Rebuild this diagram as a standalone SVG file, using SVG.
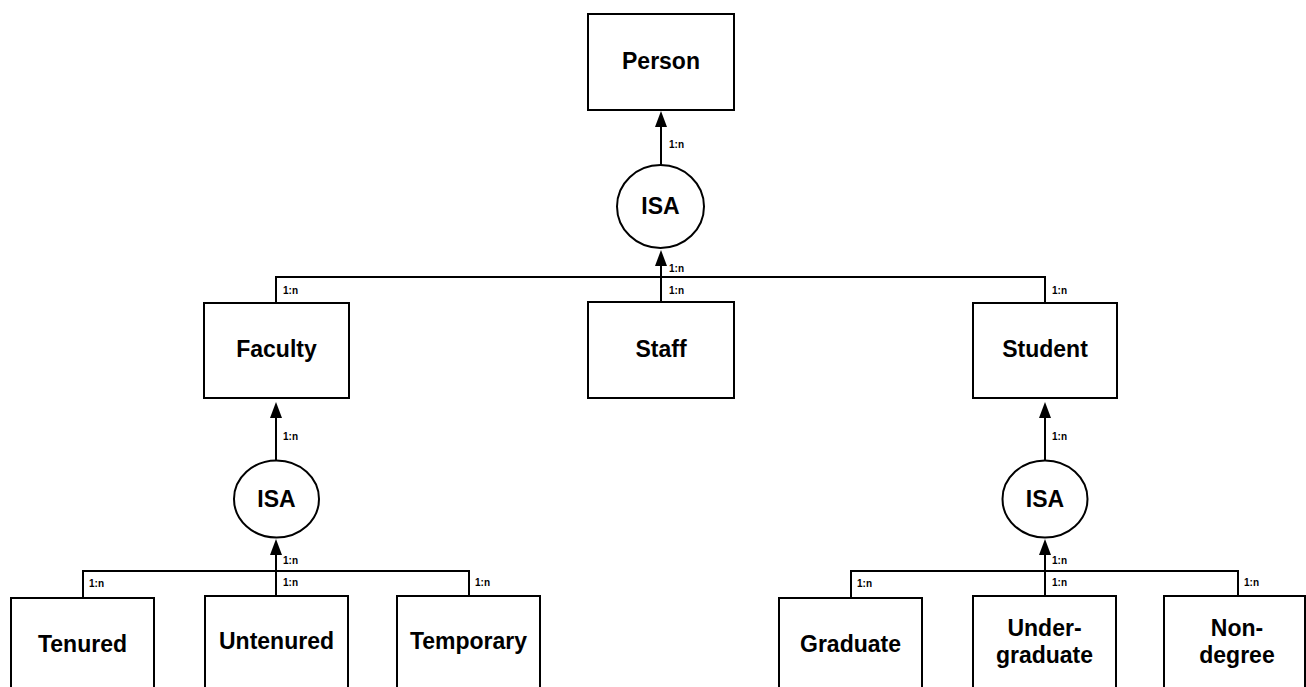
<svg xmlns="http://www.w3.org/2000/svg" width="1306" height="687" viewBox="0 0 1306 687">
  <style>
    .box { fill: #ffffff; stroke: #000000; stroke-width: 2; }
    .isa { fill: #ffffff; stroke: #000000; stroke-width: 2; }
    .name { font-family: "Liberation Sans", Arial, sans-serif; font-weight: bold; font-size: 23px; fill: #000000; text-anchor: middle; }
    .card { font-family: "Liberation Sans", Arial, sans-serif; font-weight: bold; font-size: 10px; fill: #000000; }
    .wire { fill: none; stroke: #000000; stroke-width: 2; }
    .arrow { fill: none; stroke: #000000; stroke-width: 2; marker-end: url(#head); }
  </style>
  <defs>
    <marker id="head" markerUnits="userSpaceOnUse" markerWidth="16" markerHeight="12" refX="0" refY="6" orient="auto">
      <path d="M0,0 L16,6 L0,12 z" fill="#000000"/>
    </marker>
  </defs>
  <rect width="1306" height="687" fill="#ffffff"/>

  <!-- connectors -->
  <g id="connectors">
    <!-- Person <- ISA -->
    <path class="arrow" d="M661,165 V127"/>
    <path class="arrow" d="M661,302 V266"/>
    <path class="wire" d="M276,303 V277 H1045 V303"/>
    <!-- Faculty <- ISA -->
    <path class="arrow" d="M276,461 V418"/>
    <path class="arrow" d="M276,596 V555"/>
    <path class="wire" d="M83,598 V571 H469 V596"/>
    <!-- Student <- ISA -->
    <path class="arrow" d="M1045,461 V418"/>
    <path class="arrow" d="M1045,596 V555"/>
    <path class="wire" d="M851,598 V571 H1238 V596"/>

    <!-- cardinality labels -->
    <text class="card" x="669" y="148">1:n</text>
    <text class="card" x="669" y="272">1:n</text>
    <text class="card" x="669" y="294">1:n</text>
    <text class="card" x="283" y="294">1:n</text>
    <text class="card" x="1052" y="294">1:n</text>

    <text class="card" x="283" y="440">1:n</text>
    <text class="card" x="283" y="564">1:n</text>
    <text class="card" x="283" y="586">1:n</text>
    <text class="card" x="89" y="587">1:n</text>
    <text class="card" x="475" y="586">1:n</text>

    <text class="card" x="1052" y="440">1:n</text>
    <text class="card" x="1052" y="564">1:n</text>
    <text class="card" x="1052" y="586">1:n</text>
    <text class="card" x="857" y="587">1:n</text>
    <text class="card" x="1244" y="586">1:n</text>
  </g>

  <!-- top level -->
  <g id="person">
    <rect class="box" x="588" y="14" width="146" height="96"/>
    <text class="name" x="661" y="69">Person</text>
  </g>
  <g id="isa-person">
    <ellipse class="isa" cx="660.5" cy="206.5" rx="43.5" ry="41.5"/>
    <text class="name" x="660.5" y="214">ISA</text>
  </g>

  <!-- second level -->
  <g id="faculty">
    <rect class="box" x="204" y="303" width="145" height="95"/>
    <text class="name" x="276.5" y="357">Faculty</text>
  </g>
  <g id="staff">
    <rect class="box" x="588" y="302" width="146" height="96"/>
    <text class="name" x="661" y="357">Staff</text>
  </g>
  <g id="student">
    <rect class="box" x="973" y="303" width="144" height="95"/>
    <text class="name" x="1045" y="357">Student</text>
  </g>

  <g id="isa-faculty">
    <ellipse class="isa" cx="276.5" cy="499" rx="42.5" ry="38.5"/>
    <text class="name" x="276.5" y="507">ISA</text>
  </g>
  <g id="isa-student">
    <ellipse class="isa" cx="1045" cy="499" rx="42.5" ry="38.5"/>
    <text class="name" x="1045" y="507">ISA</text>
  </g>

  <!-- faculty subtypes -->
  <g id="tenured">
    <rect class="box" x="11" y="598" width="143" height="110"/>
    <text class="name" x="82.5" y="652">Tenured</text>
  </g>
  <g id="untenured">
    <rect class="box" x="205" y="596" width="143" height="110"/>
    <text class="name" x="276.5" y="649">Untenured</text>
  </g>
  <g id="temporary">
    <rect class="box" x="397" y="596" width="143" height="110"/>
    <text class="name" x="468.5" y="649">Temporary</text>
  </g>

  <!-- student subtypes -->
  <g id="graduate">
    <rect class="box" x="779" y="598" width="143" height="110"/>
    <text class="name" x="850.5" y="652">Graduate</text>
  </g>
  <g id="undergraduate">
    <rect class="box" x="973" y="596" width="143" height="110"/>
    <text class="name" x="1044.5" y="636">Under-</text>
    <text class="name" x="1044.5" y="663">graduate</text>
  </g>
  <g id="nondegree">
    <rect class="box" x="1164" y="596" width="141" height="110"/>
    <text class="name" x="1237" y="636">Non-</text>
    <text class="name" x="1237" y="663">degree</text>
  </g>
</svg>
